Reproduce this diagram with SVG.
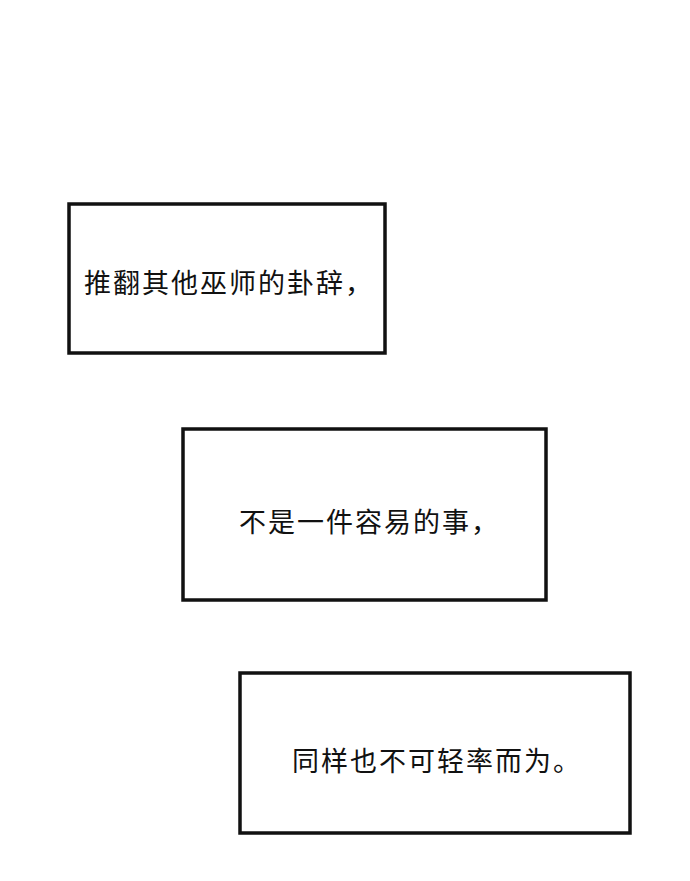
<svg xmlns="http://www.w3.org/2000/svg" width="690" height="881" viewBox="0 0 690 881">
<style>
.box{fill:#fff;stroke:#111;stroke-width:3.5}
.t{font-family:"Noto Sans CJK SC","Noto Sans",sans-serif;font-size:27px;fill:#111;letter-spacing:2px}
</style>
<rect width="690" height="881" fill="#fff"/>
<g id="box1"><rect class="box" x="69" y="204" width="316" height="149"/><text class="t" x="84" y="293">推翻其他巫师的卦辞，</text></g>
<g id="box2"><rect class="box" x="183" y="429" width="363" height="171"/><text class="t" x="239" y="532">不是一件容易的事，</text></g>
<g id="box3"><rect class="box" x="240" y="673" width="390" height="160"/><text class="t" x="292" y="771">同样也不可轻率而为。</text></g>
<g id="connectors"/>
</svg>
